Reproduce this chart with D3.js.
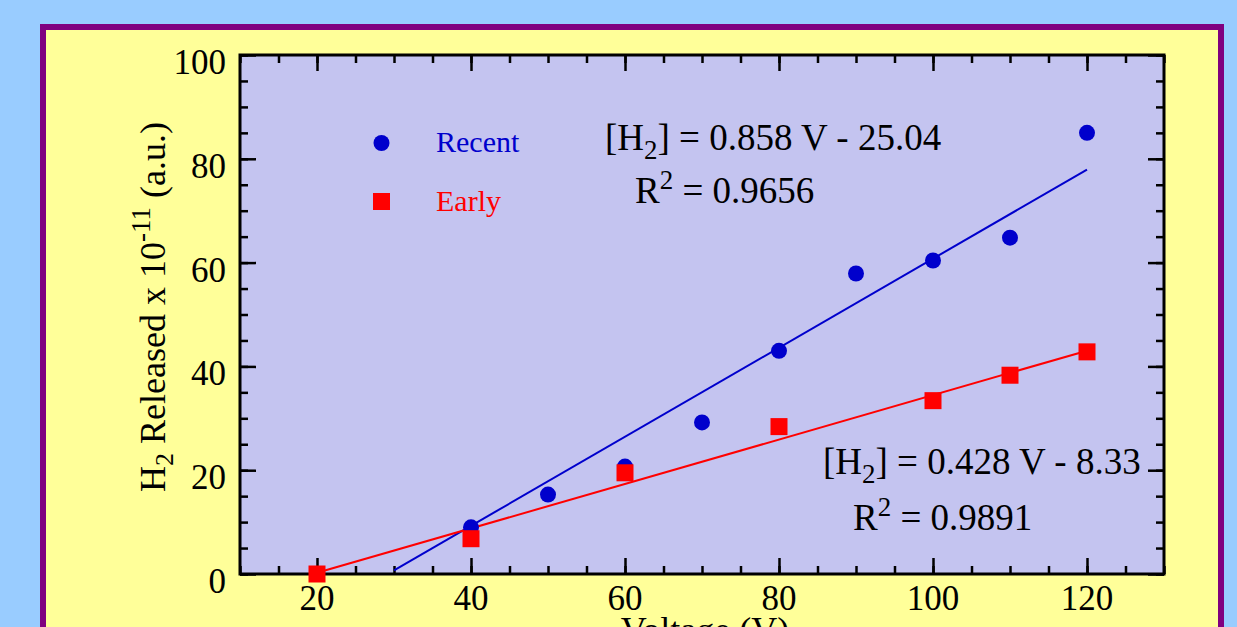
<!DOCTYPE html>
<meta charset="utf-8">
<script src="https://d3js.org/d3.v7.min.js"></script>
<style>
  body { margin: 0; background: #99ccff; }
  text { font-family: "Liberation Serif", "Times New Roman", serif; }
</style>
<div id="chart"></div>
<script>
// data
var recentV = [40, 50, 60, 70, 80, 90, 100, 110, 120];
var recentH = [9, 15.3, 20.7, 29.2, 43, 57.9, 60.4, 64.8, 85];
var earlyV = [20, 40, 60, 80, 100, 110, 120];
var earlyH = [0, 6.8, 19.5, 28.4, 33.4, 38.3, 42.8];
var recentFit = {slope: 0.858, icpt: -25.04, from: 30, to: 120};
var earlyFit = {slope: 0.428, icpt: -8.33, from: 20, to: 120};
var xTicks = [20, 40, 60, 80, 100, 120];
var yTicks = [0, 20, 40, 60, 80, 100];

var W = 1237, H = 627;
var pL = 240, pR = 1164, pT = 55, pB = 574;

var svg = d3.select("#chart").append("svg")
    .attr("width", W).attr("height", H);

// frame
svg.append("rect").attr("x", 0).attr("y", 0).attr("width", W).attr("height", H).attr("fill", "#99ccff");
svg.append("rect").attr("x", 43).attr("y", 27).attr("width", 1178).attr("height", 640)
    .attr("fill", "#ffff99").attr("stroke", "#800080").attr("stroke-width", 6);

var x = d3.scaleLinear().domain([10, 130]).range([pL, pR]);
var y = d3.scaleLinear().domain([0, 100]).range([pB, pT]);

svg.append("rect").attr("x", pL).attr("y", pT)
    .attr("width", pR - pL).attr("height", pB - pT).attr("fill", "#c4c4f0");

svg.append("clipPath").attr("id", "clip").append("rect")
    .attr("x", pL).attr("y", pT).attr("width", pR - pL).attr("height", pB - pT);

// axes: minor + major ticks pointing inward
function ticks(axis, vals, size, tr) {
  var g = svg.append("g").attr("transform", tr)
      .call(axis.tickValues(vals).tickSize(size).tickFormat(""));
  g.select(".domain").remove();
  g.selectAll(".tick line").attr("stroke", "#000").attr("stroke-width", 2.5);
  return g;
}
var minorX = d3.range(10, 131, 5), minorY = d3.range(0, 101, 5);
ticks(d3.axisBottom(x), minorX, -8, "translate(0," + pB + ")");
ticks(d3.axisBottom(x), xTicks, -16, "translate(0," + pB + ")");
ticks(d3.axisTop(x), minorX, -8, "translate(0," + pT + ")");
ticks(d3.axisTop(x), xTicks, -16, "translate(0," + pT + ")");
ticks(d3.axisLeft(y), minorY, -8, "translate(" + pL + ",0)");
ticks(d3.axisLeft(y), yTicks, -16, "translate(" + pL + ",0)");
ticks(d3.axisRight(y), minorY, -8, "translate(" + pR + ",0)");
ticks(d3.axisRight(y), yTicks, -16, "translate(" + pR + ",0)");

svg.append("rect").attr("x", pL).attr("y", pT)
    .attr("width", pR - pL).attr("height", pB - pT)
    .attr("fill", "none").attr("stroke", "#000").attr("stroke-width", 3);

// tick labels
svg.selectAll(".xl").data(xTicks).enter().append("text")
    .attr("x", function(d) { return x(d); }).attr("y", 610)
    .attr("text-anchor", "middle").attr("font-size", 35).text(function(d) { return d; });
svg.selectAll(".yl").data(yTicks).enter().append("text")
    .attr("x", 226).attr("y", function(d) { return y(d) + 19; })
    .attr("text-anchor", "end").attr("font-size", 35).text(function(d) { return d; });

// axis titles
svg.append("text").attr("x", 705).attr("y", 642).attr("text-anchor", "middle")
    .attr("font-size", 36).text("Voltage (V)");

var yt = svg.append("text").attr("transform", "translate(165,307) rotate(-90)")
    .attr("text-anchor", "middle").attr("font-size", 36);
yt.append("tspan").text("H");
yt.append("tspan").attr("font-size", 26).attr("dy", 8).text("2");
yt.append("tspan").attr("dy", -8).text(" Released x 10");
yt.append("tspan").attr("font-size", 27).attr("dy", -15).text("-11");
yt.append("tspan").attr("dy", 15).text(" (a.u.)");

// fit lines
var plot = svg.append("g").attr("clip-path", "url(#clip)");
function fitLine(f, color) {
  plot.append("line")
      .attr("x1", x(f.from)).attr("y1", y(f.slope * f.from + f.icpt))
      .attr("x2", x(f.to)).attr("y2", y(f.slope * f.to + f.icpt))
      .attr("stroke", color).attr("stroke-width", 2);
}
fitLine(recentFit, "#0000cc");
fitLine(earlyFit, "#ff0000");

// points
svg.append("g").selectAll("circle").data(recentV).enter().append("circle")
    .attr("cx", function(d) { return x(d); })
    .attr("cy", function(d, i) { return y(recentH[i]); })
    .attr("r", 8).attr("fill", "#0000cc");
svg.append("g").selectAll("rect").data(earlyV).enter().append("rect")
    .attr("x", function(d) { return x(d) - 8.5; })
    .attr("y", function(d, i) { return y(earlyH[i]) - 8.5; })
    .attr("width", 17).attr("height", 17).attr("fill", "#ff0000");

// legend
svg.append("circle").attr("cx", 381.5).attr("cy", 143).attr("r", 8).attr("fill", "#0000cc");
svg.append("text").attr("x", 436).attr("y", 152).attr("font-size", 30)
    .attr("fill", "#0000cc").text("Recent");
svg.append("rect").attr("x", 373).attr("y", 193).attr("width", 17).attr("height", 17).attr("fill", "#ff0000");
svg.append("text").attr("x", 436).attr("y", 211).attr("font-size", 30)
    .attr("fill", "#ff0000").text("Early");

// equations
function equation(f, x0, yb, rx, ryb, r2) {
  var t = svg.append("text").attr("x", x0).attr("y", yb).attr("font-size", 37);
  t.append("tspan").text("[H");
  t.append("tspan").attr("font-size", 27).attr("dy", 9).text("2");
  t.append("tspan").attr("dy", -9).text("] = " + f.slope.toFixed(3) + " V - " + Math.abs(f.icpt).toFixed(2));
  var r = svg.append("text").attr("x", rx).attr("y", ryb).attr("font-size", 37);
  r.append("tspan").text("R");
  r.append("tspan").attr("font-size", 27).attr("dy", -14).text("2");
  r.append("tspan").attr("dy", 14).text(" = " + r2);
}
equation(recentFit, 605, 150, 635, 203, "0.9656");
equation(earlyFit, 823, 474, 853, 530, "0.9891");
</script>
